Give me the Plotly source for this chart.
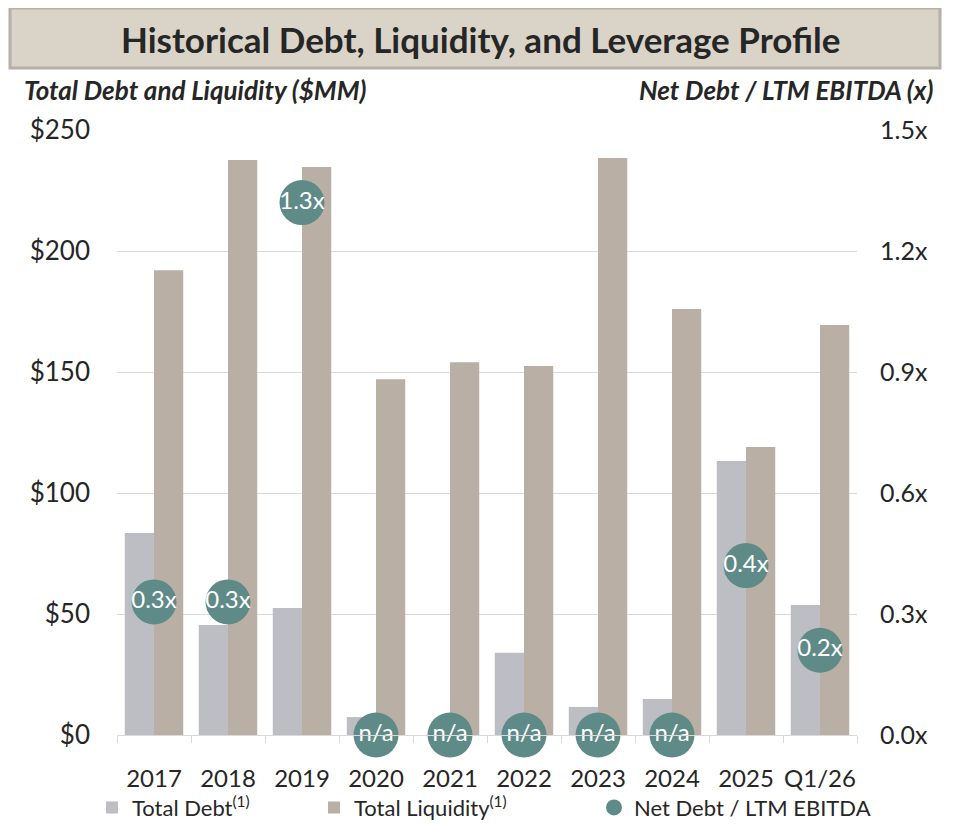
import plotly.graph_objects as go

categories = ["2017", "2018", "2019", "2020", "2021", "2022", "2023", "2024", "2025", "Q1/26"]
total_debt = [83.5, 45.5, 52.5, 7.4, 0, 34, 11.6, 14.9, 113.2, 53.7]
total_liquidity = [192, 237.6, 234.7, 147, 154, 152.5, 238.4, 176, 119, 169.4]
leverage = [0.33, 0.33, 1.32, 0, 0, 0, 0, 0, 0.42, 0.21]
leverage_labels = ["0.3x", "0.3x", "1.3x", "n/a", "n/a", "n/a", "n/a", "n/a", "0.4x", "0.2x"]
left_ticks = [0, 50, 100, 150, 200, 250]
left_tick_labels = ["$0", "$50", "$100", "$150", "$200", "$250"]
right_ticks = [0, 0.3, 0.6, 0.9, 1.2, 1.5]
right_tick_labels = ["0.0x", "0.3x", "0.6x", "0.9x", "1.2x", "1.5x"]

FONT = "Lato"
TXT = "#262626"

fig = go.Figure()
fig.add_trace(go.Bar(x=categories, y=total_debt, name="Total Debt<sup>(1)</sup>",
                     marker=dict(color="#BDBEC3", line=dict(width=0)), legend="legend"))
fig.add_trace(go.Bar(x=categories, y=total_liquidity, name="Total Liquidity<sup>(1)</sup>",
                     marker=dict(color="#B9AFA5", line=dict(width=0)), legend="legend2"))
fig.add_trace(go.Scatter(x=categories, y=leverage, name="Net Debt / LTM EBITDA",
                         mode="markers+text", yaxis="y2", legend="legend3",
                         text=leverage_labels, textposition="middle center",
                         textfont=dict(color="white", size=24, family=FONT),
                         marker=dict(color="#5E8A87", size=45, line=dict(width=0)),
                         cliponaxis=False))

leg_common = dict(orientation="h", y=-0.12, yanchor="middle", xanchor="left",
                  font=dict(size=22, color=TXT), bgcolor="rgba(0,0,0,0)",
                  itemwidth=30, tracegroupgap=0)

fig.update_layout(
    width=955, height=824,
    margin=dict(l=109, r=106, t=122, b=97, autoexpand=False),
    paper_bgcolor="white", plot_bgcolor="white",
    barmode="group", bargap=0.21, bargroupgap=0,
    font=dict(family=FONT, color=TXT, size=23),
    showlegend=True,
    legend=dict(leg_common, x=(92 - 117) / 740),
    legend2=dict(leg_common, x=(314 - 117) / 740),
    legend3=dict(leg_common, x=(594 - 117) / 740),
    xaxis=dict(type="category", range=[-0.5, len(categories) - 0.5], autorange=False,
               tickson="boundaries", ticks="outside", ticklen=7,
               tickcolor="#D9D9D9", showline=True, linecolor="#D9D9D9", linewidth=1,
               tickfont=dict(size=24, color=TXT), showgrid=False, tickangle=0,
               automargin=False, ticklabelstandoff=22),
    yaxis=dict(range=[0, 250], tickvals=left_ticks, ticktext=left_tick_labels,
               showgrid=True, gridcolor="#D9D9D9", gridwidth=1, zeroline=False,
               showline=False, tickfont=dict(size=26, color=TXT), ticks="",
               ticklabelstandoff=26, automargin=False),
    yaxis2=dict(range=[0, 1.5], tickvals=right_ticks, ticktext=right_tick_labels,
                overlaying="y", side="right", showgrid=False, zeroline=False,
                showline=False, tickfont=dict(size=25, color=TXT), ticklabelstandoff=22,
                automargin=False),
    shapes=[dict(type="rect", xref="paper", yref="paper",
                 x0=(10 - 117) / 740, x1=(940 - 117) / 740,
                 y0=(735 - 68) / 605, y1=(735 - 8) / 605,
                 fillcolor="#D9D4C7", line=dict(color="#B5B0A6", width=3), layer="below")],
    annotations=[
        dict(text="<b>Historical Debt, Liquidity, and Leverage Profile</b>", xref="paper",
             yref="paper", x=(480 - 117) / 740, y=(735 - 39) / 605, xanchor="center",
             yanchor="middle", showarrow=False, font=dict(size=35, color=TXT, family=FONT)),
        dict(text="<b><i>Total Debt and Liquidity ($MM)</i></b>", xref="paper", yref="paper",
             x=(22 - 117) / 740, y=(735 - 90) / 605, xanchor="left", yanchor="middle",
             showarrow=False, font=dict(size=26, color=TXT, family=FONT)),
        dict(text="<b><i>Net Debt / LTM EBITDA (x)</i></b>", xref="paper", yref="paper",
             x=(935 - 117) / 740, y=(735 - 90) / 605, xanchor="right", yanchor="middle",
             showarrow=False, font=dict(size=26, color=TXT, family=FONT)),
    ],
)

fig.write_html("out.html")
